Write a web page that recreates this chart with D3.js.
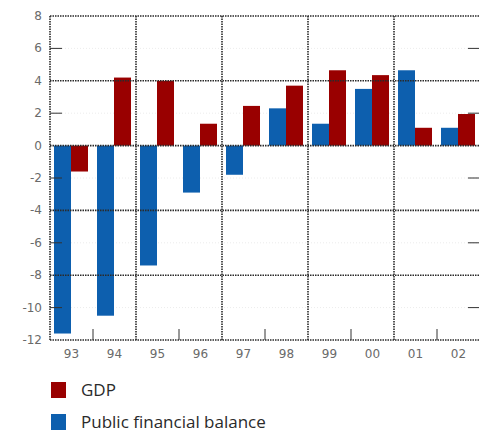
<!DOCTYPE html>
<html lang="en">
<head>
  <meta charset="utf-8"/>
  <title>GDP and public financial balance</title>
  <script src="https://d3js.org/d3.v7.min.js"></script>
  <style>
    body { margin: 0; background: #fff; }
    .tick-label { font-family: "DejaVu Sans", sans-serif; font-size: 12px; fill: #6a6a6a; }
    .legend-text { font-family: "Open Sans", "DejaVu Sans", sans-serif; font-size: 17px; fill: #2a2a2a; }
  </style>
</head>
<body>
<svg id="chart" width="479" height="432"></svg>

<script type="text/javascript">
  // data
  const years = ["93", "94", "95", "96", "97", "98", "99", "00", "01", "02"];
  const gdp = [-1.6, 4.2, 4.0, 1.35, 2.45, 3.7, 4.65, 4.35, 1.1, 1.95];
  const balance = [-11.6, -10.5, -7.4, -2.9, -1.8, 2.3, 1.35, 3.5, 4.65, 1.1];
  const yTicks = [8, 6, 4, 2, 0, -2, -4, -6, -8, -10, -12];
  const majorTicks = [8, 4, 0, -4, -8, -12];
  const legendItems = ["GDP", "Public financial balance"];

  const red = "#990000";
  const blue = "#0d5fae";

  const plotLeft = 50, plotRight = 480, plotTop = 16, plotBottom = 340;
  const svg = d3.select("#chart");

  const x = d3.scaleBand().domain(years).range([plotLeft, plotRight]).padding(0);
  const sub = d3.scaleBand().domain(["bal", "gdp"]).range([4, 38]).padding(0);
  const y = d3.scaleLinear().domain([-12, 8]).range([plotBottom, plotTop]);

  // faint minor grid
  const grid = svg.append("g");
  grid.selectAll("line.minor")
      .data(yTicks.filter(d => majorTicks.indexOf(d) < 0))
      .enter().append("line")
      .attr("x1", plotLeft).attr("x2", plotRight)
      .attr("y1", d => y(d)).attr("y2", d => y(d))
      .attr("stroke", "#ececec").attr("stroke-dasharray", "1,2");

  // bars
  const groups = svg.append("g").selectAll("g")
      .data(years.map((yr, i) => ({ yr: yr, bal: balance[i], gdp: gdp[i] })))
      .enter().append("g")
      .attr("transform", d => `translate(${x(d.yr)},0)`);

  groups.append("rect")
      .attr("x", sub("bal"))
      .attr("width", sub.bandwidth())
      .attr("y", d => y(Math.max(0, d.bal)))
      .attr("height", d => Math.abs(y(d.bal) - y(0)))
      .attr("fill", blue);

  groups.append("rect")
      .attr("x", sub("gdp"))
      .attr("width", sub.bandwidth())
      .attr("y", d => y(Math.max(0, d.gdp)))
      .attr("height", d => Math.abs(y(d.gdp) - y(0)))
      .attr("fill", red);

  // major grid, dotted dark
  const major = svg.append("g");
  major.selectAll("line.h")
      .data(majorTicks)
      .enter().append("line")
      .attr("x1", plotLeft).attr("x2", plotRight)
      .attr("y1", d => y(d)).attr("y2", d => y(d))
      .attr("stroke", "#2a2a2a").attr("stroke-width", 1.6).attr("stroke-dasharray", "1.5,1");

  const vLines = [0, 2, 4, 6, 8].map(i => x(years[i]));
  major.selectAll("line.v")
      .data(vLines)
      .enter().append("line")
      .attr("x1", d => d).attr("x2", d => d)
      .attr("y1", plotTop).attr("y2", plotBottom)
      .attr("stroke", "#2a2a2a").attr("stroke-width", 1.6).attr("stroke-dasharray", "1.5,1");

  // inward ticks: minor y ticks on left and right, x ticks at odd boundaries
  const minor = yTicks.filter(d => majorTicks.indexOf(d) < 0);
  major.selectAll("line.lt")
      .data(minor)
      .enter().append("line")
      .attr("x1", plotLeft).attr("x2", plotLeft + 12)
      .attr("y1", d => y(d)).attr("y2", d => y(d))
      .attr("stroke", "#333").attr("stroke-width", 1);
  major.selectAll("line.rt")
      .data(minor)
      .enter().append("line")
      .attr("x1", plotRight - 12).attr("x2", plotRight)
      .attr("y1", d => y(d)).attr("y2", d => y(d))
      .attr("stroke", "#333").attr("stroke-width", 1);
  major.selectAll("line.bt")
      .data([1, 3, 5, 7, 9].map(i => x(years[i])))
      .enter().append("line")
      .attr("x1", d => d).attr("x2", d => d)
      .attr("y1", plotBottom - 11).attr("y2", plotBottom)
      .attr("stroke", "#333").attr("stroke-width", 1);

  // y labels
  svg.append("g").selectAll("text")
      .data(yTicks)
      .enter().append("text")
      .attr("class", "tick-label")
      .attr("x", 42)
      .attr("y", d => y(d) + 4)
      .attr("text-anchor", "end")
      .text(d => d);

  // x labels
  svg.append("g").selectAll("text")
      .data(years)
      .enter().append("text")
      .attr("class", "tick-label")
      .attr("x", d => x(d) + x.bandwidth() / 2)
      .attr("y", 358)
      .attr("text-anchor", "middle")
      .text(d => d);

  // legend
  const legend = svg.append("g").selectAll("g")
      .data(legendItems)
      .enter().append("g")
      .attr("transform", (d, i) => `translate(51,${382 + i * 32})`);
  legend.append("rect")
      .attr("width", 15).attr("height", 16)
      .attr("fill", (d, i) => i === 0 ? red : blue);
  legend.append("text")
      .attr("class", "legend-text")
      .attr("x", 30).attr("y", 14)
      .text(d => d);
</script>
</body>
</html>
